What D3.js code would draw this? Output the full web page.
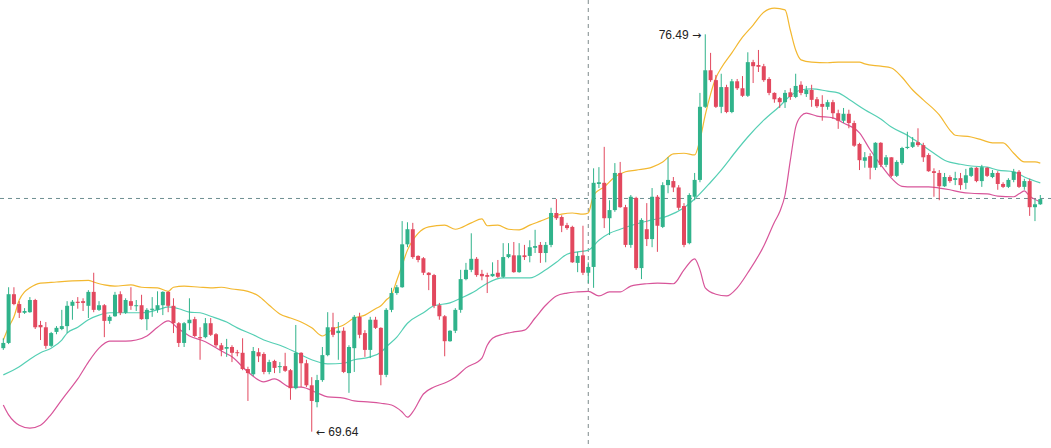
<!DOCTYPE html>
<html>
<head>
	<meta charset="utf-8">
	<title></title>
	<style>
		body { margin: 0; background: #fff; }
		.band { fill: none; stroke-width: 1.2; }
		.label { font-family: "Liberation Sans", Arial, sans-serif; font-size: 12px; fill: #222; }
		.arrow { font-family: "DejaVu Sans", sans-serif; font-size: 11px; }
	</style>
</head>
<body>
	<svg id="container" width="1051" height="448"></svg>
</body>
<script src="https://d3js.org/d3.v7.min.js"></script>
<script>
	// OHLC, one value per candle (196 candles)
	let open = [
		71.08,71.17,72.01,71.84,71.69,71.70,71.91,71.48,71.44,71.12,
		71.36,71.41,71.46,71.81,71.88,71.89,71.81,72.05,71.74,71.82,
		71.55,71.63,72.01,71.69,71.89,71.81,71.82,71.58,71.74,71.74,
		71.82,72.05,71.81,71.51,71.17,71.51,71.58,71.27,71.27,71.51,
		71.32,71.13,71.07,71.10,71.01,71.00,70.72,70.63,71.01,70.98,
		70.67,70.86,70.76,70.77,70.70,70.39,71.00,70.82,70.44,70.15,
		70.53,70.96,71.44,71.34,71.38,70.65,71.08,71.62,71.34,71.05,
		71.57,71.43,70.62,71.74,72.03,72.13,72.87,73.13,72.67,72.63,
		72.38,72.34,71.82,71.63,71.20,71.38,71.74,72.27,72.43,72.62,
		72.36,72.34,72.32,72.38,72.31,72.65,72.68,72.39,72.68,72.67,
		72.81,72.86,72.72,72.86,73.41,73.34,73.20,73.17,72.55,72.68,
		72.38,72.48,73.91,73.93,73.32,73.46,74.10,73.51,72.86,73.67,
		72.46,73.13,72.96,73.69,73.17,73.89,73.96,73.85,73.53,72.89,
		73.69,73.98,75.24,75.87,75.70,75.24,75.58,75.15,75.68,75.56,
		75.43,76.01,75.96,75.94,75.72,75.48,75.39,75.32,75.49,75.41,
		75.62,75.46,75.53,75.37,75.29,75.24,75.32,75.13,75.00,75.12,
		74.96,74.60,74.31,74.39,74.19,74.62,74.24,74.37,74.05,74.27,
		74.53,74.55,74.63,74.58,74.41,74.13,74.10,73.87,74.03,73.98,
		74.01,73.93,74.05,74.19,73.96,74.19,74.03,74.10,73.91,73.86,
		73.98,74.12,73.86,73.96,73.51,73.56
	]
	let high = [
		71.25,72.13,72.13,71.89,71.77,71.96,71.93,71.55,71.53,71.36,
		71.46,71.74,71.89,71.91,71.96,71.94,72.08,72.38,71.89,71.84,
		71.65,72.05,72.06,71.94,72.13,71.91,72.00,71.77,71.96,72.06,
		72.06,72.06,71.94,71.53,71.53,71.94,71.62,71.44,71.60,71.60,
		71.34,71.17,71.24,71.13,71.05,71.25,70.76,71.10,71.08,71.01,
		70.88,70.88,70.84,71.00,70.72,71.48,71.01,70.88,70.58,70.62,
		71.10,71.70,71.69,71.53,71.44,71.13,71.65,71.69,71.39,71.62,
		71.62,71.44,71.77,72.12,72.17,73.27,73.25,73.24,72.68,72.65,
		72.39,72.36,71.86,71.65,71.39,71.77,72.43,72.55,73.06,72.65,
		72.43,72.38,72.56,72.60,72.89,72.89,72.91,72.89,72.86,72.94,
		73.12,72.91,72.91,73.50,73.65,73.37,73.24,73.19,72.74,73.19,
		72.56,74.18,74.20,74.55,73.63,74.27,74.29,73.55,73.72,73.69,
		73.32,73.58,73.84,73.72,73.94,74.37,74.03,73.89,73.58,73.75,
		74.10,75.48,76.49,76.17,75.79,75.81,75.62,75.72,75.72,75.77,
		76.18,76.05,76.22,75.98,75.75,75.49,75.41,75.53,75.56,75.81,
		75.68,75.60,75.62,75.41,75.44,75.36,75.36,75.19,75.22,75.19,
		75.00,74.62,74.46,74.44,74.63,74.63,74.41,74.37,74.32,74.55,
		74.81,74.72,74.87,74.62,74.44,74.18,74.15,74.10,74.06,74.12,
		74.10,74.17,74.20,74.20,74.24,74.20,74.15,74.13,73.94,74.01,
		74.17,74.15,74.00,74.00,73.65,73.72
	]
	let low = [
		71.05,71.15,71.82,71.60,71.67,71.69,71.41,71.22,71.07,71.10,
		71.32,71.39,71.34,71.57,71.76,71.72,71.60,71.70,71.72,71.27,
		71.50,71.62,71.65,71.67,71.74,71.72,71.57,71.39,71.62,71.69,
		71.65,71.70,71.34,71.10,71.10,71.39,71.27,70.88,71.25,71.29,
		71.10,70.94,70.93,70.84,70.94,70.70,70.17,70.60,70.84,70.63,
		70.63,70.65,70.65,70.67,70.19,70.37,70.41,70.41,69.64,70.06,
		70.50,70.94,71.27,70.88,70.65,70.31,70.67,71.25,70.93,70.91,
		71.41,70.44,70.58,71.70,72.00,72.12,72.82,72.62,72.56,72.34,
		72.08,71.77,71.57,70.94,71.19,71.34,71.69,72.25,72.39,72.31,
		72.25,72.03,72.31,72.29,72.29,72.63,72.38,72.38,72.60,72.56,
		72.72,72.55,72.56,72.82,73.29,73.08,73.12,72.55,72.39,72.34,
		72.20,72.12,73.84,73.15,73.03,73.43,73.50,72.82,72.81,72.43,
		72.27,72.84,72.82,72.74,73.15,73.75,73.77,73.46,72.82,72.87,
		73.63,73.94,75.22,75.67,75.22,75.13,75.13,75.13,75.53,75.41,
		75.41,75.65,75.84,75.67,75.44,75.31,75.22,75.22,75.36,75.39,
		75.44,75.41,75.24,75.22,75.00,75.19,75.03,74.86,74.96,74.87,
		74.55,74.15,74.19,73.99,74.15,74.20,74.20,74.03,74.03,74.24,
		74.51,74.53,74.55,74.29,74.12,73.69,73.63,73.86,73.93,73.89,
		73.81,73.82,74.03,73.94,73.86,74.03,74.01,73.81,73.84,73.84,
		73.94,73.84,73.81,73.36,73.27,73.55
	]
	let close = [
		71.17,72.01,71.84,71.69,71.72,71.91,71.44,71.44,71.12,71.34,
		71.43,71.46,71.81,71.88,71.86,71.86,72.05,71.74,71.82,71.55,
		71.62,72.00,71.69,71.91,71.81,71.82,71.58,71.74,71.76,71.82,
		72.05,71.81,71.51,71.17,71.51,71.57,71.29,71.25,71.51,71.31,
		71.13,71.05,71.10,71.00,71.00,70.72,70.65,71.03,70.94,70.67,
		70.84,70.74,70.77,70.69,70.39,71.00,70.82,70.44,70.17,70.53,
		70.96,71.44,71.31,71.38,70.67,71.10,71.62,71.31,71.05,71.57,
		71.43,70.62,71.74,72.03,72.13,72.87,73.13,72.65,72.60,72.38,
		72.34,71.81,71.63,71.20,71.38,71.74,72.27,72.43,72.62,72.34,
		72.32,72.31,72.36,72.31,72.65,72.70,72.39,72.68,72.65,72.82,
		72.84,72.72,72.86,73.41,73.32,73.19,73.15,72.56,72.67,72.38,
		72.48,73.93,73.94,73.32,73.46,74.10,73.51,72.86,73.69,72.46,
		73.29,72.96,73.69,73.19,73.89,73.98,73.85,73.50,72.86,73.72,
		73.98,75.24,75.87,75.70,75.24,75.58,75.15,75.68,75.56,75.43,
		76.01,75.94,75.93,75.70,75.48,75.37,75.32,75.48,75.41,75.60,
		75.48,75.53,75.36,75.25,75.24,75.32,75.13,75.00,75.12,74.96,
		74.57,74.32,74.37,74.19,74.62,74.24,74.37,74.05,74.29,74.53,
		74.55,74.63,74.58,74.37,74.13,74.10,73.87,74.03,73.96,74.01,
		73.89,74.06,74.19,73.96,74.20,74.05,74.10,73.91,73.86,73.98,
		74.12,73.86,73.96,73.51,73.56,73.65
	]

	// Bollinger bands, read at some candle indices
	let upperIdx = [0,1,2,3,4,5,7,10,13,16,17,19,21,24,26,29,31,32,34,37,39,41,43,46,48,50,52,54,56,58,60,62,64,66,68,70,71,72,73,74,75,76,77,78,80,83,85,88,90,91,93,95,97,99,101,103,105,107,109,110,111,113,115,117,119,122,124,126,128,130,131,132,133,134,135,137,139,141,143,145,147,148,149,150,152,155,157,161,162,165,167,169,171,173,176,178,179,182,184,186,188,190,192,194,195]
	let upperBand = [71.22,71.44,71.62,71.91,72.05,72.12,72.20,72.22,72.24,72.25,72.22,72.17,72.15,72.17,72.13,72.12,72.06,72.13,72.15,72.13,72.12,72.13,72.10,72.06,71.98,71.82,71.67,71.60,71.53,71.43,71.29,71.41,71.48,71.60,71.65,71.76,71.81,71.91,72.00,72.25,72.51,72.77,72.94,73.06,73.17,73.20,73.13,73.24,73.31,73.19,73.20,73.13,73.12,73.20,73.27,73.34,73.39,73.41,73.39,73.41,73.72,73.86,74.03,74.12,74.15,74.20,74.29,74.43,74.44,74.41,74.67,75.10,75.46,75.74,75.91,76.17,76.44,76.65,76.87,76.94,76.91,76.56,76.22,76.05,76.01,76.00,76.01,76.01,75.98,75.94,75.91,75.75,75.53,75.36,75.10,74.84,74.75,74.72,74.67,74.62,74.62,74.44,74.29,74.29,74.27]

	let middleIdx = [0,3,5,7,9,11,12,14,16,18,20,23,26,29,31,33,35,37,39,42,44,47,49,52,55,58,61,64,66,69,71,72,74,76,79,81,84,86,89,91,94,97,99,102,104,106,108,110,112,114,116,119,122,125,128,130,133,135,138,140,143,146,148,150,152,155,157,159,162,165,167,170,172,175,177,180,182,185,187,190,192,195]
	let middleBand = [70.62,70.76,70.89,71.00,71.08,71.22,71.34,71.44,71.57,71.65,71.69,71.69,71.69,71.74,71.79,71.76,71.70,71.69,71.63,71.53,71.43,71.31,71.22,71.13,71.01,70.88,70.81,70.82,70.88,70.93,71.01,71.10,71.27,71.51,71.69,71.81,71.86,71.94,72.08,72.20,72.29,72.29,72.29,72.43,72.56,72.70,72.74,72.77,72.94,73.06,73.13,73.22,73.29,73.36,73.50,73.65,73.94,74.15,74.50,74.72,75.01,75.25,75.43,75.53,75.55,75.51,75.48,75.37,75.19,75.03,74.89,74.75,74.63,74.44,74.32,74.25,74.22,74.20,74.15,74.12,74.03,73.93]

	let lowerIdx = [0,1,2,3,5,7,9,11,12,14,16,18,20,23,25,27,29,31,33,35,38,41,43,46,49,51,54,56,59,61,64,66,69,71,73,75,76,77,79,81,83,85,87,90,91,92,94,96,98,100,102,104,106,108,110,112,114,116,118,121,123,126,128,130,131,132,134,136,138,140,143,145,146,147,148,149,150,151,153,156,158,161,163,165,167,169,171,174,176,178,180,182,185,187,190,191,192,193,195]
	let lowerBand = [70.10,69.93,69.82,69.75,69.70,69.75,69.94,70.19,70.31,70.55,70.84,71.08,71.20,71.20,71.22,71.29,71.44,71.55,71.41,71.29,71.19,71.03,70.93,70.67,70.50,70.55,70.41,70.41,70.31,70.24,70.22,70.17,70.15,70.13,70.10,69.98,69.89,69.98,70.29,70.41,70.48,70.58,70.74,70.91,71.13,71.25,71.32,71.36,71.39,71.60,71.82,71.98,72.03,72.05,72.06,71.98,72.05,72.05,72.15,72.19,72.20,72.19,72.43,72.62,72.43,72.12,72.01,71.98,72.12,72.38,72.84,73.25,73.43,73.72,74.32,74.89,75.08,75.13,75.08,75.05,74.96,74.79,74.50,74.24,74.01,73.87,73.86,73.86,73.84,73.81,73.77,73.75,73.74,73.70,73.69,73.74,73.79,73.70,73.60]

	// crosshair position
	let crossIndex = 110
	let crossPrice = 73.66

	let width = 1051
	let height = 448
	let up = "#30b38b"
	let down = "#e2485e"

	let svg = d3.select("#container")
	let n = open.length

	let xScale = d3.scaleLinear()
		.domain([0, n - 1])
		.range([3.3, 1040.3])
	let step = xScale(1) - xScale(0)
	let bodyW = step * 0.75

	let yScale = d3.scaleLinear()
		.domain([d3.min(low), d3.max(high)])
		.range([431.7, 34.3])

	let candles = d3.range(n).map(i => ({
		i: i, o: open[i], h: high[i], l: low[i], c: close[i]
	}))

	// crosshair (drawn under the candles)
	svg.append("line")
		.attr("x1", xScale(crossIndex)).attr("x2", xScale(crossIndex))
		.attr("y1", 0).attr("y2", height)
		.attr("stroke", "#7f8a8c").attr("stroke-dasharray", "4,4")
	svg.append("line")
		.attr("x1", 0).attr("x2", width)
		.attr("y1", yScale(crossPrice)).attr("y2", yScale(crossPrice))
		.attr("stroke", "#6f8f91").attr("stroke-dasharray", "4,4")

	// bands
	let bands = [
		{idx: upperIdx, val: upperBand, color: "#f3b830"},
		{idx: middleIdx, val: middleBand, color: "#55cfb4"},
		{idx: lowerIdx, val: lowerBand, color: "#d8559a"}
	]
	let line = d3.line()
		.x(d => xScale(d[0]))
		.y(d => yScale(d[1]))
		.curve(d3.curveMonotoneX)
	svg.selectAll(".band")
		.data(bands)
		.enter()
		.append("path")
		.attr("class", "band")
		.attr("stroke", d => d.color)
		.attr("d", d => line(d.idx.map((k, j) => [k, d.val[j]])))

	// candles
	let g = svg.selectAll(".candle")
		.data(candles)
		.enter()
		.append("g")
		.attr("class", "candle")
	g.append("line")
		.attr("x1", d => xScale(d.i)).attr("x2", d => xScale(d.i))
		.attr("y1", d => yScale(d.h)).attr("y2", d => yScale(d.l))
		.attr("stroke", d => d.c >= d.o ? up : down)
		.attr("stroke-width", 1)
	g.append("rect")
		.attr("x", d => xScale(d.i) - bodyW / 2)
		.attr("width", bodyW)
		.attr("y", d => yScale(Math.max(d.o, d.c)))
		.attr("height", d => Math.max(1, Math.abs(yScale(d.o) - yScale(d.c))))
		.attr("fill", d => d.c >= d.o ? up : down)

	// max / min labels
	let hiI = d3.maxIndex(high)
	let loI = d3.minIndex(low)
	let hiText = svg.append("text")
		.attr("class", "label")
		.attr("x", xScale(hiI) - 4)
		.attr("y", yScale(high[hiI]))
		.attr("dy", "0.35em")
		.attr("text-anchor", "end")
	hiText.append("tspan").text(high[hiI].toFixed(2) + " ")
	hiText.append("tspan").attr("class", "arrow").text("\u2192")

	let loText = svg.append("text")
		.attr("class", "label")
		.attr("x", xScale(loI) + 4)
		.attr("y", yScale(low[loI]))
		.attr("dy", "0.35em")
	loText.append("tspan").attr("class", "arrow").text("\u2190")
	loText.append("tspan").text(" " + low[loI].toFixed(2))
</script>
</html>
